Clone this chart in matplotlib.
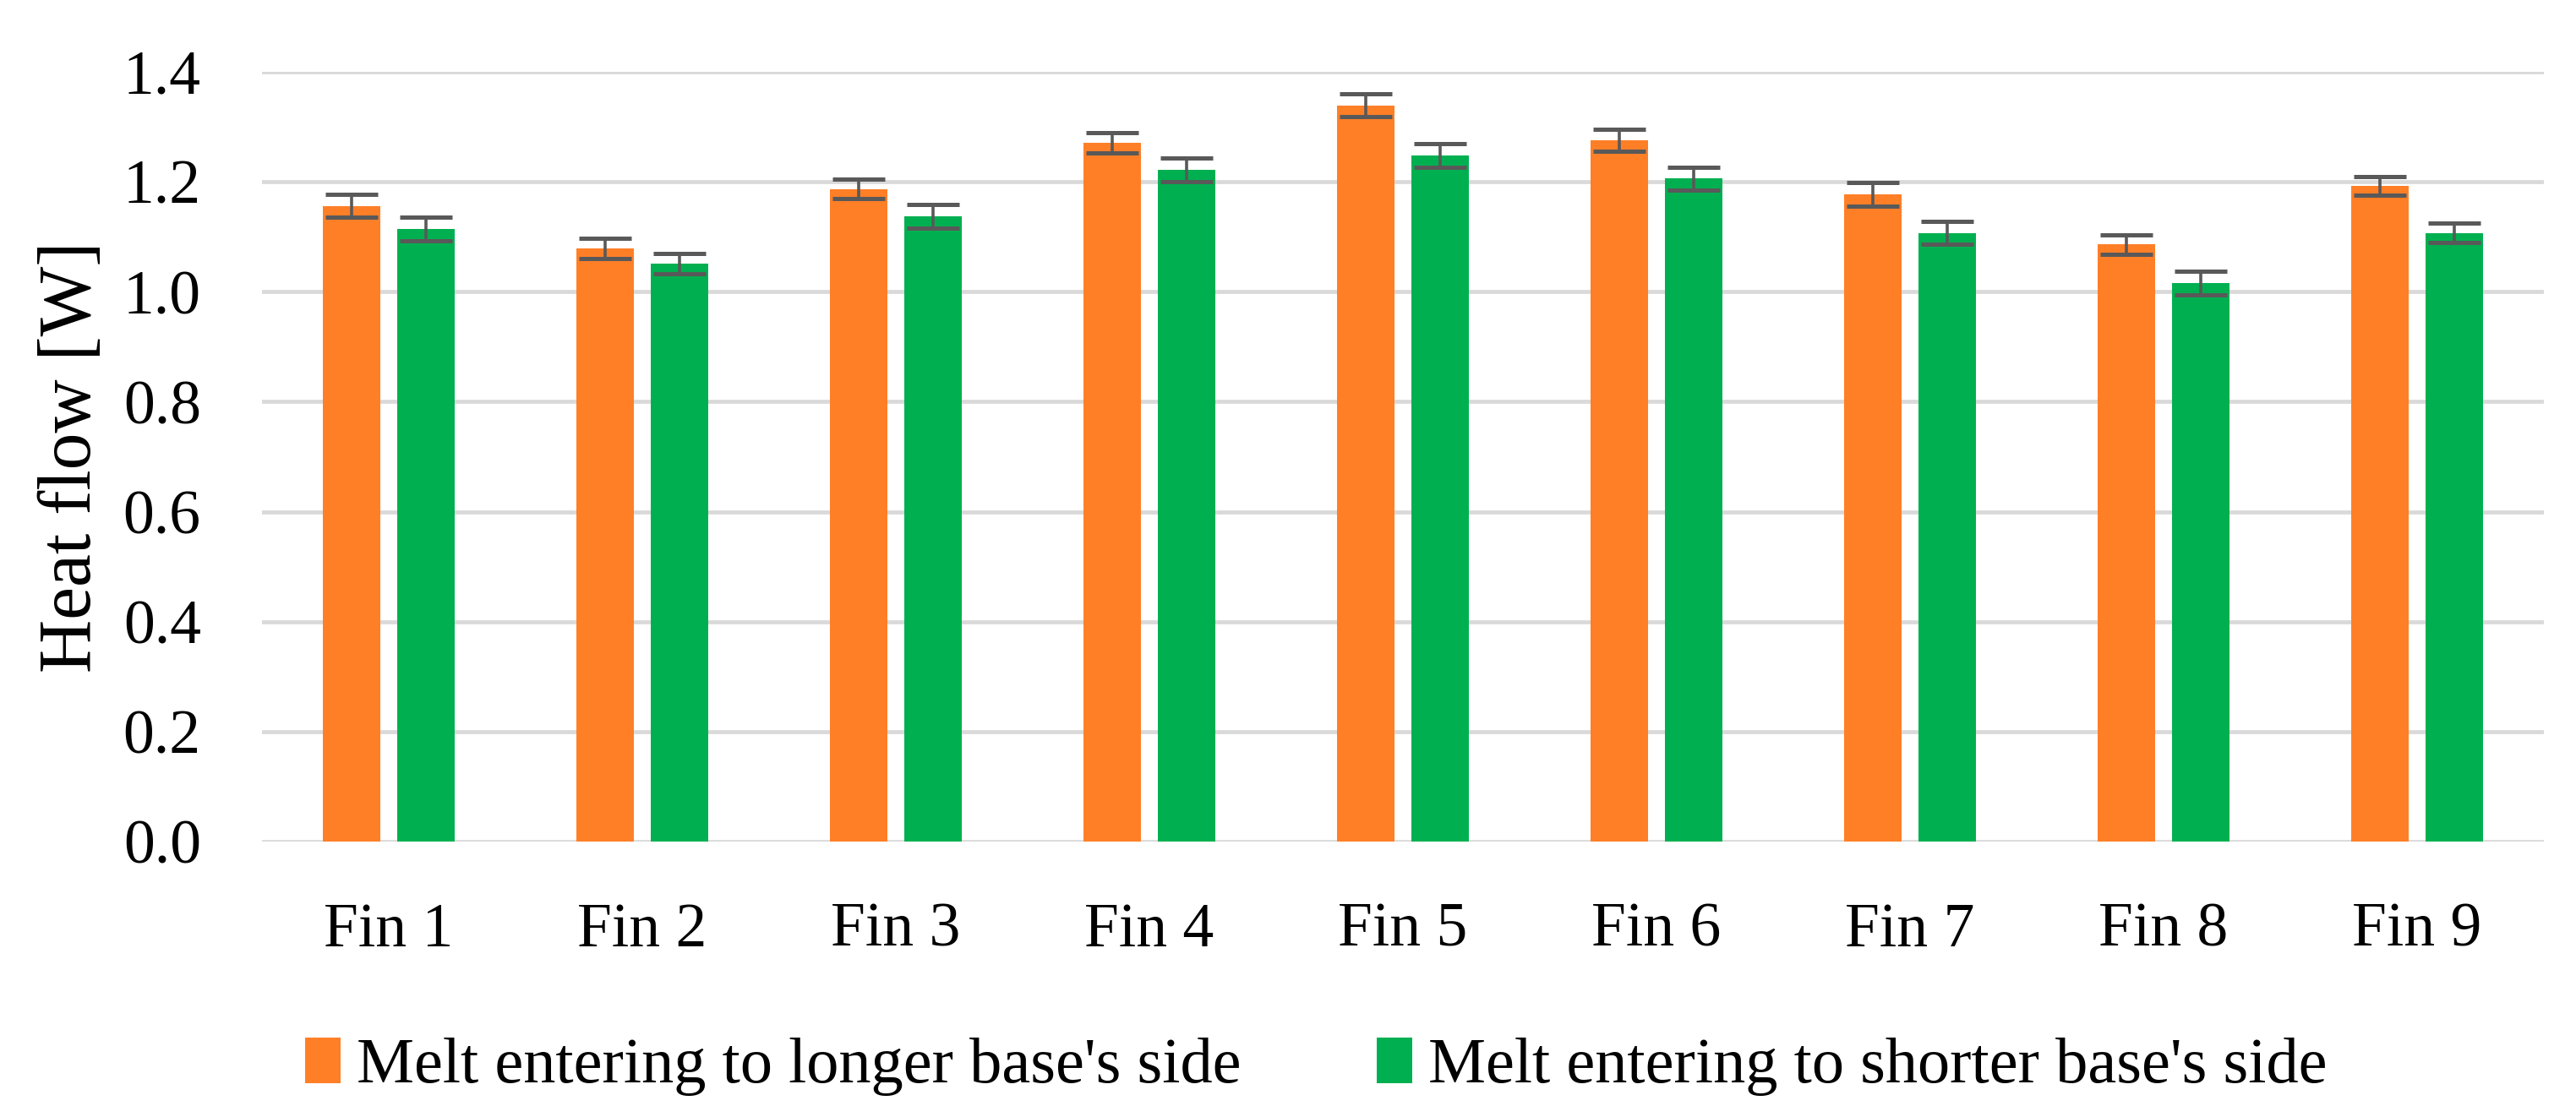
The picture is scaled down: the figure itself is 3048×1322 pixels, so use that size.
import numpy as np
import matplotlib
matplotlib.use('Agg')
import matplotlib.pyplot as plt

# Dados
aletas = ['Fin 1', 'Fin 2', 'Fin 3', 'Fin 4', 'Fin 5', 'Fin 6', 'Fin 7', 'Fin 8', 'Fin 9']
lado_longo = [1.156, 1.079, 1.187, 1.271, 1.339, 1.276, 1.177, 1.086, 1.192]
erro_longo = [0.021, 0.018, 0.018, 0.018, 0.021, 0.020, 0.021, 0.018, 0.017]
lado_curto = [1.114, 1.051, 1.137, 1.222, 1.248, 1.206, 1.107, 1.016, 1.107]
erro_curto = [0.021, 0.019, 0.021, 0.022, 0.021, 0.021, 0.021, 0.021, 0.018]
rotulos = ["Melt entering to longer base's side", "Melt entering to shorter base's side"]
yticks = [0.0, 0.2, 0.4, 0.6, 0.8, 1.0, 1.2, 1.4]

plt.rcParams['font.family'] = ['Liberation Serif', 'DejaVu Serif']

fig = plt.figure(figsize=(15.24, 6.61), dpi=200)
ax = fig.add_axes([0.1017, 0.2466, 0.8858, 0.6891])

x = np.arange(len(aletas))
largura = 0.227
desloc = 0.146
cor_erro = '#595959'

ax.bar(x - desloc, lado_longo, largura, color='#FF7F27', label=rotulos[0], zorder=3,
       yerr=erro_longo, error_kw=dict(ecolor=cor_erro, elinewidth=1.3, capsize=11, capthick=1.8))
ax.bar(x + desloc, lado_curto, largura, color='#00B050', label=rotulos[1], zorder=3,
       yerr=erro_curto, error_kw=dict(ecolor=cor_erro, elinewidth=1.3, capsize=11, capthick=1.8))

ax.set_xlim(-0.5, len(aletas) - 0.5)
ax.set_ylim(0, 1.4)
ax.set_yticks(yticks)
ax.set_yticklabels([f'{v:.1f}' for v in yticks])
ax.set_xticks(x)
ax.set_xticklabels(aletas)
ax.grid(axis='y', color='#D9D9D9', linewidth=1.7, zorder=0)
ax.set_axisbelow(True)
for s in ax.spines.values():
    s.set_visible(False)
ax.tick_params(axis='both', length=0, labelsize=26.5)
ax.tick_params(axis='y', pad=26)
ax.tick_params(axis='x', pad=26)
ax.set_ylabel('Heat flow [W]', fontsize=31.5, labelpad=7)

fig.legend(loc='center', bbox_to_anchor=(0.511, 0.045), ncol=2, frameon=False,
           fontsize=27.5, handlelength=0.55, handleheight=0.72, handletextpad=0.25,
           columnspacing=2.1)

fig.savefig('out.png', dpi=200)
